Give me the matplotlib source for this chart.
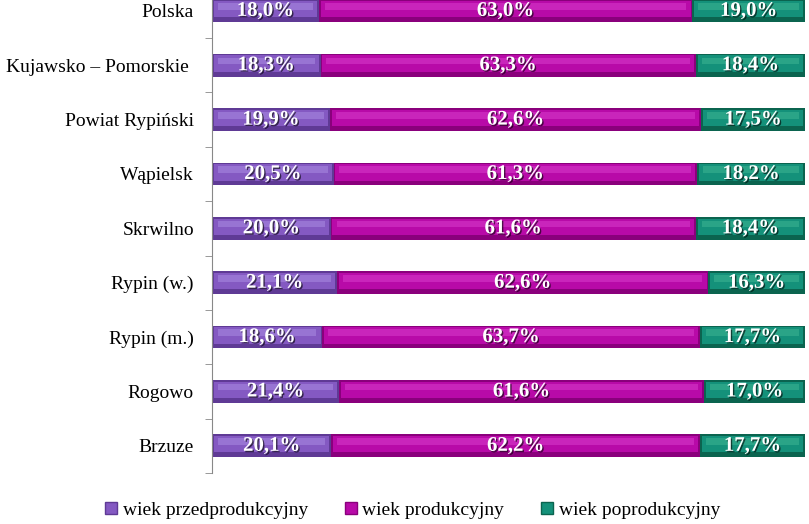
from matplotlib import pyplot as plt
from matplotlib.patches import Patch
import matplotlib.patheffects as pe
import numpy as np

# data
regions = ["Polska", "Kujawsko \u2013 Pomorskie ", "Powiat Rypiński", "Wąpielsk",
           "Skrwilno", "Rypin (w.)", "Rypin (m.)", "Rogowo", "Brzuze"]
przed = [18.0, 18.3, 19.9, 20.5, 20.0, 21.1, 18.6, 21.4, 20.1]
prod = [63.0, 63.3, 62.6, 61.3, 61.6, 62.6, 63.7, 61.6, 62.2]
popr = [19.0, 18.4, 17.5, 18.2, 18.4, 16.3, 17.7, 17.0, 17.7]
series_names = ["wiek przedprodukcyjny", "wiek produkcyjny", "wiek poprodukcyjny"]

# colours: (main, light, dark)
colors = [("#8459c2", "#9874d3", "#5f3a95"),
          ("#b80aa8", "#c925bb", "#8a007c"),
          ("#14917a", "#2aa487", "#0b644f")]

fig = plt.figure(figsize=(8.09, 5.24), dpi=100)
ax = fig.add_axes([212 / 809, 1 - 473 / 524, 593 / 809, 473 / 524])

y = np.arange(len(regions))
h = 0.42
left = np.zeros(len(regions))
for vals, (c, cl, cd) in zip([przed, prod, popr], colors):
    vals = np.array(vals)
    # dark base, main body, light highlight strip
    ax.barh(y, vals, left=left, height=h, color=cd, edgecolor="none")
    ax.barh(y - 0.03, vals - 0.6, left=left + 0.3, height=h - 0.12, color=c, edgecolor="none")
    ax.barh(y - 0.08, vals - 2.0, left=left + 1.0, height=0.12, color=cl, edgecolor="none")
    for yi, l, v in zip(y, left, vals):
        ax.text(l + v / 2, yi, f"{v:.1f}%".replace(".", ","), ha="center", va="center",
                color="white", fontsize=15, fontweight="bold", family="Liberation Serif",
                path_effects=[pe.SimplePatchShadow(offset=(1, -1), shadow_rgbFace="black", alpha=0.6),
                              pe.Normal()])
    left = left + vals

ax.set_xlim(0, 100)
ax.set_ylim(8.5, -0.2)
ax.set_yticks(y)
ax.set_yticklabels(regions, family="Liberation Serif", fontsize=14)
ax.tick_params(axis="y", which="major", length=0, pad=13)
ax.set_yticks(y + 0.5, minor=True)
ax.tick_params(axis="y", which="minor", length=5, color="#888888")
ax.set_xticks([])
for s in ["top", "right", "bottom"]:
    ax.spines[s].set_visible(False)
ax.spines["left"].set_color("#888888")

handles = [Patch(facecolor=c[0], edgecolor=c[2]) for c in colors]
fig.legend(handles, series_names, loc="lower center", bbox_to_anchor=(0.51, -0.024), ncol=3,
           frameon=False, prop={"family": "Liberation Serif", "size": 14},
           handlelength=0.6, handleheight=0.6, handletextpad=0.3, columnspacing=1.9)

fig.savefig("out.png", dpi=100)
